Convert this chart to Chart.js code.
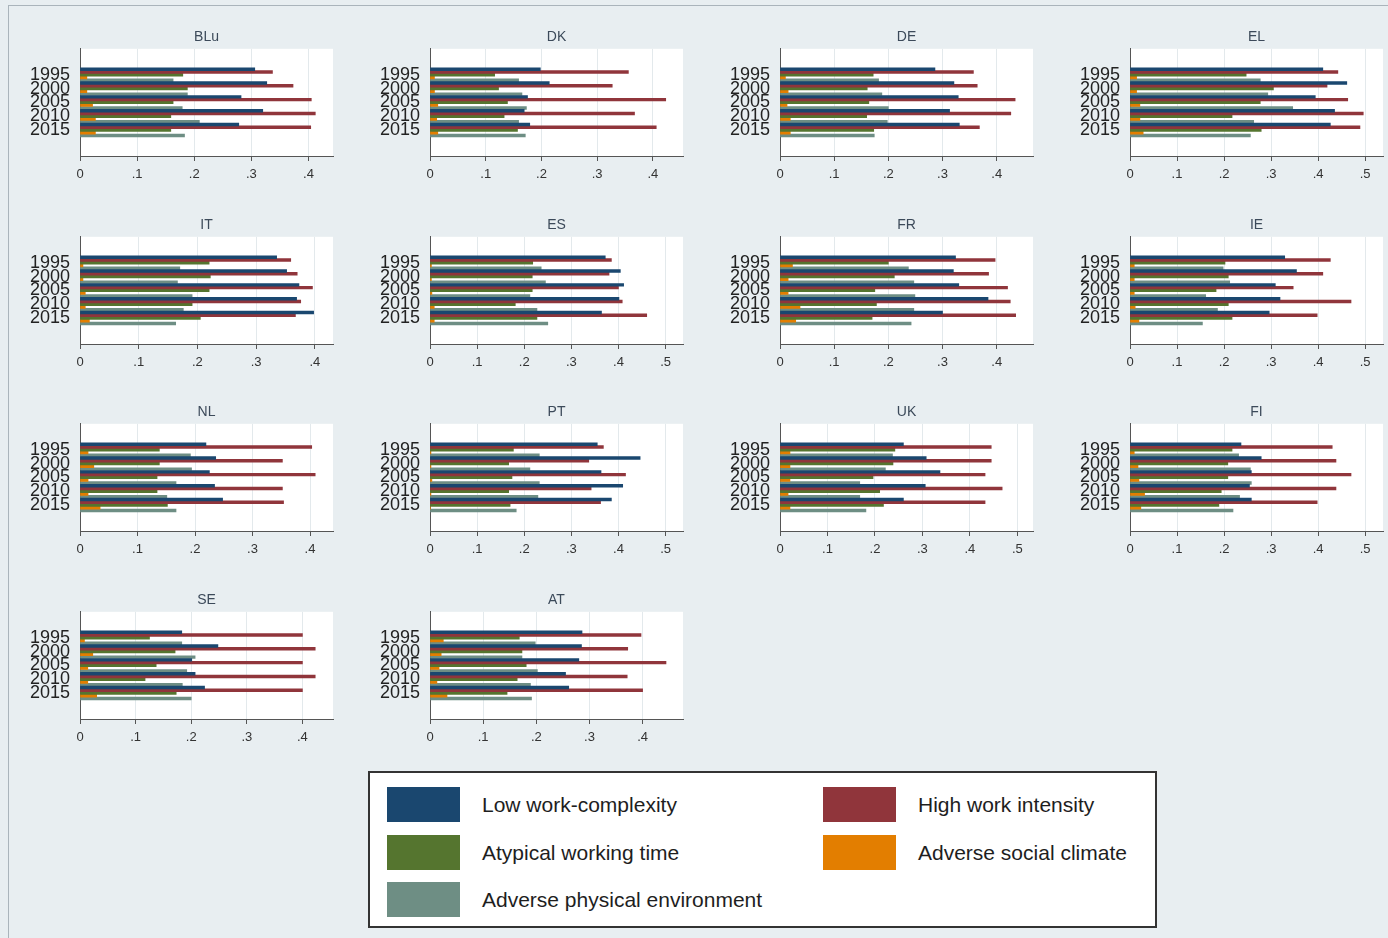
<!DOCTYPE html>
<html>
<head>
<meta charset="utf-8">
<script src="https://cdn.jsdelivr.net/npm/chart.js@4.4.1/dist/chart.umd.min.js"></script>
<style>
	html, body {
		margin: 0;
		padding: 0;
		width: 1388px;
		height: 938px;
		overflow: hidden;
		background: #e8eef1;
		font-family: "Liberation Sans", Arial, sans-serif;
	}
	#frame {
		position: absolute;
		left: 8px;
		top: 5px;
		width: 1400px;
		height: 950px;
		border-left: 1px solid #aab4bb;
		border-top: 1px solid #aab4bb;
	}
	.panel {
		position: absolute;
		width: 326px;
		height: 160px;
	}
	#legend {
		position: absolute;
		left: 368px;
		top: 771px;
		width: 789px;
		height: 157px;
		box-sizing: border-box;
		border: 2px solid #333;
		background: #fff;
	}
	.item {
		position: absolute;
		height: 35px;
		line-height: 35px;
		font-size: 21px;
		color: #1e1e1e;
		white-space: nowrap;
	}
	.swatch {
		position: absolute;
		left: 0;
		top: 0;
		width: 73px;
		height: 35px;
	}
	.item span {
		position: absolute;
		left: 95px;
		top: 0;
	}
</style>
</head>
<body>
<div id="frame"></div>
<div id="panels"></div>
<div id="legend"></div>

<script>
const countries = ['BLu', 'DK', 'DE', 'EL', 'IT', 'ES', 'FR', 'IE', 'NL', 'PT', 'UK', 'FI', 'SE', 'AT'];
const years = ['1995', '2000', '2005', '2010', '2015'];
const seriesNames = [
	'Low work-complexity',
	'High work intensity',
	'Atypical working time',
	'Adverse social climate',
	'Adverse physical environment'
];
const seriesColors = ['#1a476f', '#90353b', '#55752f', '#e37e00', '#6e8e84'];

// one row per country (same order as countries), one value per year
const lowComplexity = [
	[.306, .327, .282, .320, .278], // BLu
	[.198, .214, .175, .169, .179], // DK
	[.286, .321, .329, .313, .331], // DE
	[.410, .461, .394, .435, .426], // EL
	[.335, .352, .373, .369, .398], // IT
	[.372, .404, .411, .401, .364], // ES
	[.324, .320, .330, .384, .300], // FR
	[.329, .354, .309, .319, .296], // IE
	[.219, .236, .225, .234, .248], // NL
	[.355, .446, .363, .409, .385], // PT
	[.260, .308, .337, .306, .260], // UK
	[.236, .279, .258, .254, .258], // FI
	[.183, .248, .201, .207, .224], // SE
	[.286, .285, .280, .255, .261]  // AT
];
const highIntensity = [
	[.337, .373, .405, .412, .404],
	[.356, .327, .423, .367, .406],
	[.357, .364, .434, .426, .368],
	[.442, .419, .463, .496, .489],
	[.359, .370, .396, .376, .367],
	[.385, .380, .400, .408, .460],
	[.397, .385, .420, .425, .435],
	[.426, .410, .347, .470, .398],
	[.403, .352, .409, .352, .354],
	[.368, .337, .415, .342, .362],
	[.445, .445, .432, .468, .432],
	[.430, .438, .470, .438, .398],
	[.400, .423, .400, .423, .400],
	[.397, .372, .444, .371, .400]
];
const atypicalTime = [
	[.180, .188, .163, .159, .159],
	[.116, .123, .139, .133, .157],
	[.172, .161, .164, .160, .173],
	[.247, .305, .277, .217, .279],
	[.220, .222, .220, .191, .205],
	[.218, .217, .217, .181, .227],
	[.200, .211, .175, .178, .170],
	[.202, .209, .183, .209, .217],
	[.138, .138, .134, .134, .152],
	[.177, .167, .174, .167, .170],
	[.242, .238, .196, .210, .218],
	[.217, .208, .208, .194, .189],
	[.125, .171, .137, .117, .173],
	[.168, .173, .181, .164, .145]
];
const socialClimate = [
	[.012, .012, .022, .027, .027],
	[.008, .008, .014, .012, .014],
	[.010, .015, .013, .019, .019],
	[.014, .014, .021, .021, .028],
	[.005, .005, .009, .009, .016],
	[.003, .003, .004, .009, .009],
	[.023, .015, .015, .037, .029],
	[.009, .009, .009, .011, .019],
	[.014, .024, .014, .014, .035],
	[.002, .002, .004, .002, .001],
	[.021, .021, .021, .017, .021],
	[.009, .017, .019, .031, .023],
	[.008, .023, .014, .014, .030],
	[.025, .021, .017, .013, .032]
];
const physicalEnv = [
	[.163, .188, .179, .209, .183],
	[.159, .165, .173, .159, .171],
	[.182, .188, .200, .198, .174],
	[.277, .293, .346, .263, .256],
	[.170, .166, .191, .176, .163],
	[.236, .245, .212, .227, .250],
	[.237, .247, .249, .247, .242],
	[.198, .212, .161, .186, .154],
	[.192, .194, .167, .151, .167],
	[.232, .212, .232, .229, .183],
	[.237, .222, .168, .168, .181],
	[.231, .256, .258, .233, .219],
	[.183, .207, .192, .184, .200],
	[.198, .173, .202, .189, .191]
];
// right end of each panel's x axis
const axisMax = [.443, .454, .467, .538, .431, .537, .467, .538, .440, .537, .533, .538, .455, .476];

const series = [lowComplexity, highIntensity, atypicalTime, socialClimate, physicalEnv];

// white plot region
const plotBackground = {
	id: 'plotBackground',
	beforeDraw(chart) {
		const a = chart.chartArea;
		chart.ctx.save();
		chart.ctx.fillStyle = '#ffffff';
		chart.ctx.fillRect(a.left, a.top, a.right - a.left, a.bottom - a.top);
		chart.ctx.restore();
	}
};

const fmtTick = v => {
	if (Math.abs(v) < 1e-9) return '0';
	return v.toFixed(1).replace(/^0/, '');
};

const panels = document.getElementById('panels');

countries.forEach((country, i) => {
	const col = i % 4;
	const row = Math.floor(i / 4);
	const box = document.createElement('div');
	box.className = 'panel';
	box.style.left = (10 + 350 * col) + 'px';
	box.style.top = (24 + 187.5 * row) + 'px';
	const canvas = document.createElement('canvas');
	canvas.width = 326;
	canvas.height = 160;
	box.appendChild(canvas);
	panels.appendChild(box);

	new Chart(canvas, {
		type: 'bar',
		data: {
			datasets: series.map((s, k) => ({
				label: seriesNames[k],
				data: s[i].map((v, y) => ({ x: v, y: y })),
				backgroundColor: seriesColors[k],
				borderWidth: 0,
				categoryPercentage: 1,
				barPercentage: 1,
			}))
		},
		options: {
			indexAxis: 'y',
			responsive: false,
			animation: false,
			layout: { padding: { left: 0, right: 3, top: 0, bottom: 0 } },
			plugins: {
				legend: { display: false },
				tooltip: { enabled: false },
				title: {
					display: true,
					text: country,
					fullSize: false,
					color: '#3c4a5a',
					font: { family: '"Liberation Sans", Arial, sans-serif', size: 14, weight: 'normal' },
					padding: { top: 5, bottom: 3 }
				}
			},
			scales: {
				x: {
					type: 'linear',
					min: 0,
					max: axisMax[i],
					ticks: {
						stepSize: 0.1,
						includeBounds: false,
						maxRotation: 0,
						padding: 6,
						color: '#333',
						font: { family: '"Liberation Sans", Arial, sans-serif', size: 13 },
						callback: fmtTick
					},
					grid: { color: '#e3e9ec', tickColor: '#555', tickLength: 5 },
					border: { color: '#555', width: 1 },
					afterFit: scale => { scale.height = 28; }
				},
				y: {
					type: 'linear',
					reverse: true,
					offset: false,
					min: -1.88,
					max: 5.88,
					ticks: {
						stepSize: 1,
						includeBounds: false,
						autoSkip: false,
						padding: 10,
						color: '#222',
						font: { family: '"Liberation Sans", Arial, sans-serif', size: 18 },
						callback: v => years[v] ?? ''
					},
					grid: { display: false, drawTicks: false, offset: false },
					border: { color: '#555', width: 1 },
					afterFit: scale => { scale.width = 70; }
				}
			}
		},
		plugins: [plotBackground]
	});
});

// legend, two columns
const legend = document.getElementById('legend');
const legendPos = [[17, 14], [453, 14], [17, 62], [453, 62], [17, 109]];
seriesNames.forEach((name, k) => {
	const item = document.createElement('div');
	item.className = 'item';
	item.style.left = legendPos[k][0] + 'px';
	item.style.top = legendPos[k][1] + 'px';
	item.innerHTML = '<div class="swatch" style="background:' + seriesColors[k] + '"></div><span>' + name + '</span>';
	legend.appendChild(item);
});
</script>
</body>
</html>
